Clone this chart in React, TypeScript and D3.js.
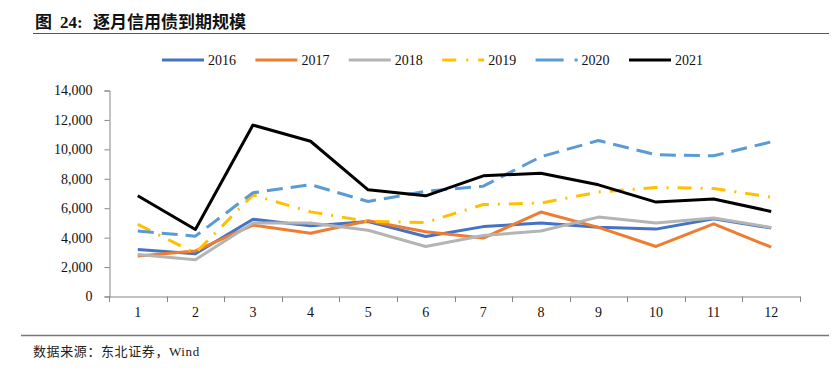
import React, { useEffect, useRef } from "react";
import * as d3 from "d3";

const months = ["1", "2", "3", "4", "5", "6", "7", "8", "9", "10", "11", "12"];
const yTicks = [0, 2000, 4000, 6000, 8000, 10000, 12000, 14000];

const s2016 = [3200, 2900, 5250, 4800, 5100, 4080, 4750, 5000, 4700, 4580, 5290, 4650];
const s2017 = [2750, 3100, 4850, 4300, 5150, 4400, 3970, 5740, 4700, 3400, 4940, 3350];
const s2018 = [2850, 2500, 5000, 5000, 4500, 3400, 4150, 4450, 5395, 4990, 5330, 4690];
const s2019 = [4900, 2950, 6900, 5750, 5100, 5030, 6250, 6350, 7100, 7410, 7340, 6750];
const s2020 = [4450, 4100, 7050, 7600, 6460, 7150, 7500, 9500, 10600, 9630, 9560, 10510];
const s2021 = [6850, 4550, 11650, 10550, 7250, 6840, 8200, 8380, 7590, 6415, 6620, 5780];

const seriesNames = ["2016", "2017", "2018", "2019", "2020", "2021"];
const seriesValues = [s2016, s2017, s2018, s2019, s2020, s2021];
const seriesColors = ["#4472C4", "#ED7D31", "#B4B4B4", "#FFC000", "#5B9BD5", "#000000"];
const seriesDash = [null, null, null, "14 9 2 9", "16 8", null];

const W = 836;
const H = 373;
const serif = "Liberation Serif, Times New Roman, serif";
const cjk = "Liberation Serif, Noto Sans CJK SC, serif";

const App = () => {
  const svgRef = useRef<SVGSVGElement>(null);

  useEffect(() => {
    const svg = d3.select(svgRef.current);
    svg.selectAll("*").remove();

    // title + rules
    const title = svg.append("text")
      .attr("y", 28)
      .style("font-family", cjk)
      .style("font-weight", "bold")
      .style("font-size", "17px")
      .attr("fill", "#111");
    title.append("tspan").attr("x", 35).text("图");
    title.append("tspan").attr("x", 60).text("24:");
    title.append("tspan").attr("x", 93).text("逐月信用债到期规模");
    svg.append("line").attr("x1", 33).attr("x2", 829).attr("y1", 33.5).attr("y2", 33.5)
      .attr("stroke", "#555").attr("stroke-width", 1.2);
    svg.append("line").attr("x1", 21).attr("x2", 829).attr("y1", 335.5).attr("y2", 335.5)
      .attr("stroke", "#777").attr("stroke-width", 1.5);
    svg
      .append("text")
      .attr("x", 33)
      .attr("y", 356)
      .style("font-family", cjk)
      .style("font-size", "13px")
      .style("letter-spacing", "0.6px")
      .attr("fill", "#222")
      .text("数据来源：东北证券，Wind");

    const x = d3.scaleBand().domain(months).range([109, 800]);
    const y = d3.scaleLinear().domain([0, 14000]).range([296.5, 90.5]);

    // y axis
    const yAxis = svg.append("g").attr("transform", "translate(109.5,0)")
      .call(d3.axisLeft(y).tickValues(yTicks).tickSize(5).tickPadding(12)
        .tickFormat((d) => d3.format(",")(d as number)));
    yAxis.select(".domain").attr("stroke", "#868686");
    yAxis.selectAll(".tick line").attr("stroke", "#868686");
    yAxis.selectAll("text").style("font-family", serif).style("font-size", "14px").attr("fill", "#111");

    // x axis
    const xAxis = svg.append("g").attr("transform", "translate(0,296.5)")
      .call(d3.axisBottom(x).tickSize(0).tickPadding(11));
    xAxis.select(".domain").attr("stroke", "#868686");
    xAxis.selectAll("text").style("font-family", serif).style("font-size", "14px").attr("fill", "#111");
    const bounds = months.map((m) => x(m)!).concat([x.range()[1]]);
    svg.append("g").selectAll("line").data(bounds).join("line")
      .attr("x1", (d) => Math.round(d) + 0.5).attr("x2", (d) => Math.round(d) + 0.5)
      .attr("y1", 296.5).attr("y2", 302)
      .attr("stroke", "#868686");

    const line = d3.line<number>()
      .x((_, i) => x(months[i])! + x.bandwidth() / 2)
      .y((d) => y(d));

    seriesValues.forEach((vals, i) => {
      svg.append("path")
        .attr("d", line(vals))
        .attr("fill", "none")
        .attr("stroke", seriesColors[i])
        .attr("stroke-width", 3)
        .attr("stroke-linejoin", "round")
        .attr("stroke-dasharray", seriesDash[i]);
    });

    // legend
    const lg = svg.append("g");
    seriesNames.forEach((name, i) => {
      const lx = 162 + i * 93.4;
      lg.append("line")
        .attr("x1", lx).attr("x2", lx + 42).attr("y1", 60).attr("y2", 60)
        .attr("stroke", seriesColors[i]).attr("stroke-width", 3)
        .attr("stroke-dasharray", i === 3 ? "14 10 2 10" : i === 4 ? "28 11" : null);
      lg.append("text")
        .attr("x", lx + 46).attr("y", 65)
        .style("font-family", serif).style("font-size", "14px").attr("fill", "#111")
        .text(name);
    });
  }, []);

  return (
    <svg
      ref={svgRef}
      width={W}
      height={H}
      style={{ position: "absolute", left: 0, top: 0, background: "#fff" }}
    />
  );
};

export default App;
